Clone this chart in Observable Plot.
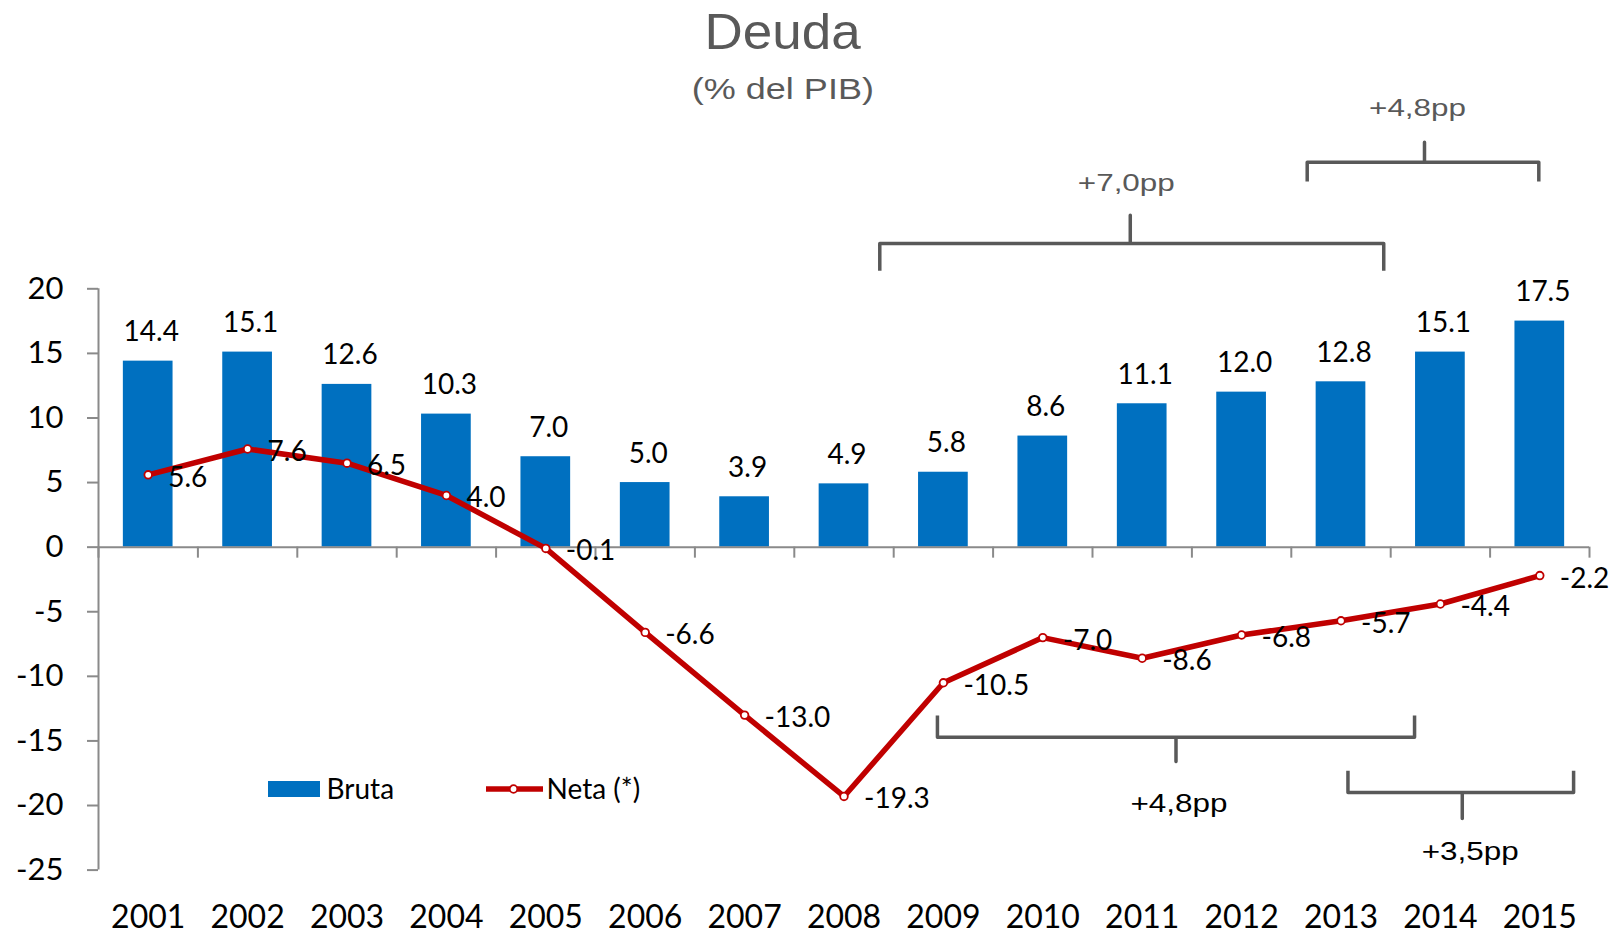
<!DOCTYPE html>
<html>
<head>
<meta charset="utf-8">
<script src="https://cdn.jsdelivr.net/npm/d3@7"></script>
<script src="https://cdn.jsdelivr.net/npm/@observablehq/plot@0.6"></script>
<style>
  html, body { margin: 0; padding: 0; background: #fff; }
  #wrap { position: relative; width: 1616px; height: 934px; overflow: hidden; background: #fff; }
  #chart { position: absolute; left: 0; top: 0; }
  .t { position: absolute; left: 0; width: 1566px; text-align: center; font-family: "Liberation Sans", Arial, sans-serif; color: #595959; line-height: 1; white-space: nowrap; }
  .t span { display: inline-block; }
  .lg { position: absolute; font-family: Lato, sans-serif; font-size: 28px; line-height: 1; color: #000; white-space: nowrap; }
</style>
</head>
<body>
<div id="wrap">
  <div id="chart"></div>
  <div class="t" style="top:7px;font-size:50px"><span style="transform:scaleX(1.06)">Deuda</span></div>
  <div class="t" style="top:73.6px;font-size:30px"><span style="transform:scaleX(1.2)">(% del PIB)</span></div>
  <div style="position:absolute;left:268px;top:781px;width:52px;height:16px;background:#0070C0"></div>
  <div class="lg" style="left:326.5px;top:773.5px">Bruta</div>
  <svg style="position:absolute;left:486px;top:783px" width="57" height="12">
    <line x1="0" x2="57" y1="6" y2="6" stroke="#C00000" stroke-width="5.5"></line>
    <circle cx="27.5" cy="6" r="3.8" fill="#fff" stroke="#C00000" stroke-width="1.8"></circle>
  </svg>
  <div class="lg" style="left:546.5px;top:773.5px">Neta (*)</div>
</div>
<script>
// ---- data ----
const years = [2001, 2002, 2003, 2004, 2005, 2006, 2007, 2008, 2009, 2010, 2011, 2012, 2013, 2014, 2015];
const bruta = [14.4, 15.1, 12.6, 10.3, 7.0, 5.0, 3.9, 4.9, 5.8, 8.6, 11.1, 12.0, 12.8, 15.1, 17.5];
const neta  = [5.6, 7.6, 6.5, 4.0, -0.1, -6.6, -13.0, -19.3, -10.5, -7.0, -8.6, -6.8, -5.7, -4.4, -2.2];
const yTicks = [-25, -20, -15, -10, -5, 0, 5, 10, 15, 20];

// bracket annotations (in data units: x = year, y = % del PIB)
const annotTop = [
  {label: "+7,0pp", x1: 2008.36, x2: 2013.43, xc: 2010.88, yEnd: 21.4, yBar: 23.5, yTip: 25.7, xt: 2010.84, yt: 27.56},
  {label: "+4,8pp", x1: 2012.66, x2: 2014.99, xc: 2013.84, yEnd: 28.3, yBar: 29.8, yTip: 31.35, xt: 2013.77, yt: 33.4}
];
const annotBottom = [
  {label: "+4,8pp", x1: 2008.94, x2: 2013.74, xc: 2011.34, yEnd: -13.03, yBar: -14.71, yTip: -16.59, xt: 2011.37, yt: -20.51},
  {label: "+3,5pp", x1: 2013.07, x2: 2015.34, xc: 2014.22, yEnd: -17.3, yBar: -19.0, yTip: -21.0, xt: 2014.3, yt: -24.2}
];

// ---- build ----
const data = years.map((year, i) => ({year, bruta: bruta[i], neta: neta[i]}));
const xDomain = [years[0] - 0.5, years[years.length - 1] + 0.5];
const boundaries = d3.range(xDomain[0], xDomain[1] + 0.5, 1);
const braceData = [...annotTop, ...annotBottom].flatMap((b, k) =>
  [[b.x1, b.yEnd], [b.x1, b.yBar], [b.xc, b.yBar], [b.xc, b.yTip], [b.xc, b.yBar], [b.x2, b.yBar], [b.x2, b.yEnd]]
    .map(([x, y]) => ({x, y, k})));

const axisColor = "#8a8a8a";
const barColor = "#0070C0";
const lineColor = "#C00000";

const chart = Plot.plot({
  width: 1616,
  height: 934,
  marginTop: 288.3,
  marginBottom: 64.4,
  marginLeft: 98,
  marginRight: 27,
  x: {domain: xDomain, axis: null},
  y: {domain: [-25, 20], axis: null},
  style: {fontFamily: "Lato, sans-serif", fontSize: "28px", color: "#000", background: "#fff", overflow: "visible"},
  marks: [
    Plot.rect(data, {x1: d => d.year - 0.25, x2: d => d.year + 0.25, y1: 0, y2: "bruta", fill: barColor}),
    Plot.ruleX([xDomain[0]], {stroke: axisColor, strokeWidth: 2}),
    Plot.ruleY([0], {stroke: axisColor, strokeWidth: 2}),
    Plot.ruleX(boundaries, {x: d => d, y1: 0, y2: 0, insetBottom: -11, stroke: axisColor, strokeWidth: 2}),
    Plot.ruleY(yTicks, {y: d => d, x1: xDomain[0], x2: xDomain[0], insetLeft: -11, stroke: axisColor, strokeWidth: 2}),
    Plot.text(yTicks, {y: d => d, frameAnchor: "left", dx: -35, textAnchor: "end", text: d => String(d), fontSize: 31}),
    Plot.text(years, {x: d => d, frameAnchor: "bottom", dy: 35, lineAnchor: "top", text: d => String(d), fontSize: 32}),
    Plot.text(data, {x: "year", y: "bruta", text: d => d.bruta.toFixed(1), dy: -20, dx: 3, lineAnchor: "bottom", fontSize: 28}),
    Plot.line(data, {x: "year", y: "neta", stroke: lineColor, strokeWidth: 5.5, strokeLinejoin: "round"}),
    Plot.dot(data, {x: "year", y: "neta", r: 3.8, fill: "#fff", stroke: lineColor, strokeWidth: 1.8}),
    Plot.text(data, {x: "year", y: "neta", text: d => d.neta.toFixed(1), textAnchor: "start", dx: 20, dy: 3, fontSize: 28}),
    Plot.line(braceData, {x: "x", y: "y", z: "k", stroke: "#595959", strokeWidth: 3.5, strokeLinejoin: "round", strokeLinecap: "butt"}),
    Plot.text(annotTop, {x: "xt", y: "yt", text: "label", lineAnchor: "bottom", fill: "#595959", fontFamily: "Liberation Sans, Arial, sans-serif", fontSize: 23.5}),
    Plot.text(annotBottom, {x: "xt", y: "yt", text: "label", lineAnchor: "bottom", fill: "#000", fontFamily: "Liberation Sans, Arial, sans-serif", fontSize: 26.5})
  ]
});

// stretch the bracket annotation texts horizontally as in the original
const annotLabels = new Set([...annotTop, ...annotBottom].map(d => d.label));
const annotTextLength = 97;
chart.querySelectorAll("text").forEach(t => {
  if (annotLabels.has(t.textContent.trim())) {
    t.setAttribute("textLength", annotTextLength);
    t.setAttribute("lengthAdjust", "spacingAndGlyphs");
  }
});

document.getElementById("chart").appendChild(chart);
</script>
</body>
</html>
